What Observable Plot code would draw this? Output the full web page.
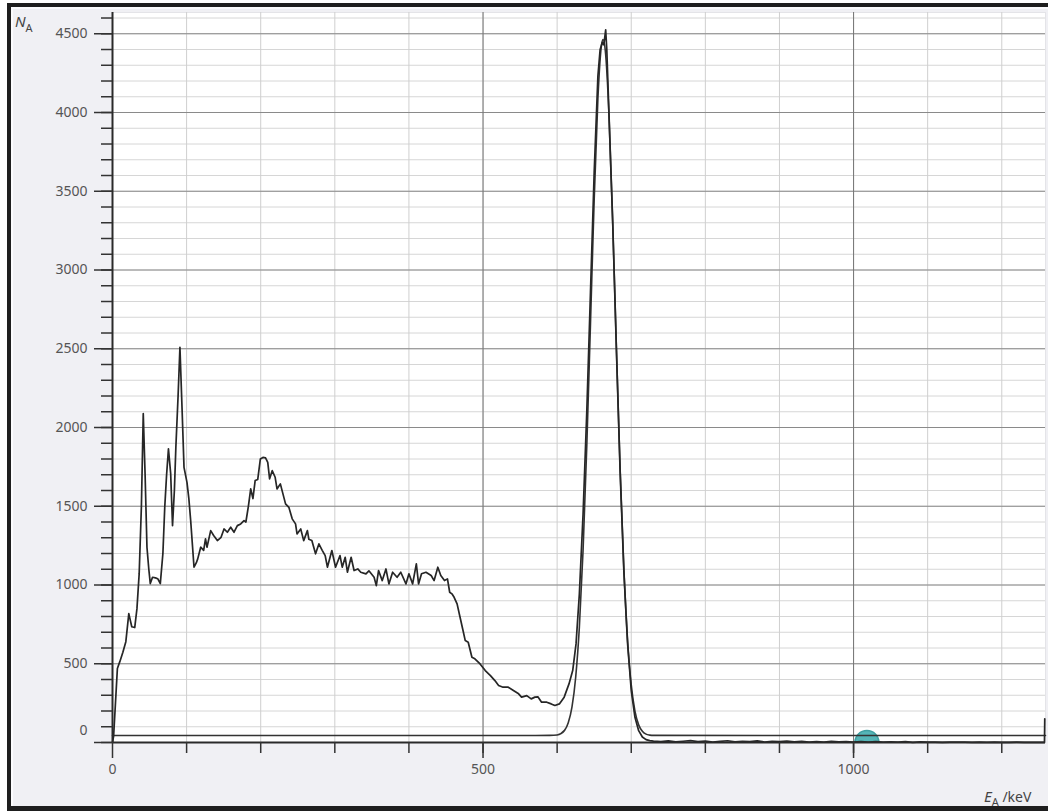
<!DOCTYPE html>
<html><head><meta charset="utf-8">
<script src="https://cdn.jsdelivr.net/npm/d3@7"></script>
<script src="https://cdn.jsdelivr.net/npm/@observablehq/plot@0.6"></script>
<style>
body{margin:0;background:#fff;}
#wrap{position:relative;width:1048px;height:812px;overflow:hidden;}
#panel{position:absolute;left:7px;top:3px;width:1060px;height:808px;box-sizing:border-box;border-top:4px solid #1e1e1e;border-left:4px solid #1e1e1e;border-bottom:5px solid #1e1e1e;background:#f0f0f4;box-shadow:inset 2px 2px 0 #fbfbfd;}
#chart{position:absolute;left:0;top:0;}
</style></head>
<body>
<div id="wrap"><div id="panel"></div><div id="chart"></div></div>
<script>
// Measured spectrum: energy (keV) and counts
const specE = [0,1.5,6.6,10,14,18,22,26,30,33,36,39,41.5,44,46.5,49,51,54,58,61,64.5,68,70.5,73,75.5,78.5,81,83.5,85.5,88.5,91,94,96.5,100.5,103,105.5,110,113,115,119,123,125.5,127.5,132.5,136.5,141.5,146.5,150.5,155,159.5,164,168.5,173,177.5,180,183.5,186.5,189.5,192.5,196,199.5,203,206.5,209.5,212,215.5,219.5,222,226.5,233.5,238,242.5,247,249,254,258,263,265,269,274,278.5,283,287,290,296,301,307,310,314,317,322,326,331,335,342,346,353,356,359,364,369,373,378,384,389,396,400,405,410,413,417,423,430,434,439,443,448,452,455,458,461,465,469,473,476,480,485,489,496,503,510,516,521,527,534,541,548,552,559,565,570,574,579,586,592,597,603,609.5,616,621,625.5,630,635,640,645,650,655,658,661,663,665.5,667,670,675,680,685,690,695,700,705,710,715,720,725,730,740,750,760,770,780,790,800,810,820,830,840,850,860,870,880,890,900,910,920,930,940,950,960,970,980,990,1000,1010,1020,1030,1040,1050,1060,1070,1080,1090,1100,1110,1120,1130,1140,1150,1160,1170,1180,1190,1200,1210,1220,1230,1240,1250,1257.6,1258];
const specN = [0,40,470,515,573,640,818,735,730,850,1072,1500,2088,1700,1240,1100,1009,1049,1045,1040,1009,1200,1493,1700,1864,1707,1377,1600,1874,2200,2509,2100,1747,1652,1550,1409,1113,1140,1166,1240,1220,1293,1240,1345,1314,1282,1303,1356,1335,1367,1335,1377,1388,1409,1400,1504,1610,1549,1663,1670,1800,1810,1807,1779,1674,1726,1684,1610,1642,1515,1493,1420,1388,1324,1356,1282,1345,1290,1282,1198,1261,1220,1187,1113,1219,1113,1187,1113,1176,1081,1176,1092,1102,1081,1071,1090,1049,996,1092,1028,1102,1007,1081,1049,1081,1007,1071,1007,1134,1007,1071,1081,1060,1028,1113,1060,1028,1039,954,944,922,880,795,711,647,637,541,531,499,457,425,393,362,351,351,330,309,288,298,277,288,290,256,256,245,235,245,288,372,457,626,944,1450,2100,2860,3620,4230,4400,4445,4430,4525,4400,3985,3300,2490,1720,1090,630,330,160,75,35,18,12,9,6,10,4,8,12,5,9,3,7,11,4,8,6,10,3,7,5,9,4,8,3,6,2,7,4,5,3,6,2,5,3,4,2,5,1,4,2,3,1,3,2,2,1,2,1,2,1,1,2,1,1,1,1,150];
// Fitted peak curve
const fitE = [0,560,590,600,610,615,620,625,630,635,640,645,650,655,660,662,665,670,675,680,685,690,695,700,705,710,715,720,725,730,1259];
const fitN = [44,44,45,48,77,125,224,413,733,1221,1881,2661,3448,4088,4433,4464,4393,3980,3297,2500,1737,1109,654,366,199,112,71,53,47,45,44];
// Axis ticks
const yMajor = [500,1000,1500,2000,2500,3000,3500,4000,4500];
const yMinor = d3.range(0,4601,100);
const xMajor = [0,500,1000];
const xMinor = d3.range(100,1201,100);
const marker = [{E:1018,N:0}];

const spec = specE.map((e,i)=>({E:e,N:specN[i]}));
const fit = fitE.map((e,i)=>({E:e,N:fitN[i]}));
const fmt = d3.format("d");

const chart = Plot.plot({
  width:1048, height:812,
  marginLeft:112, marginRight:3, marginTop:12, marginBottom:70,
  style:{background:"transparent", fontFamily:"'Noto Sans', sans-serif", fontSize:"14px", color:"#555", overflow:"visible"},
  x:{domain:[0,1259], label:null},
  y:{domain:[0,4635], label:null},
  marks:[
    Plot.frame({fill:"white", stroke:"#e4e4e8"}),
    Plot.gridY({ticks:yMinor, stroke:"#d6d6d6", strokeOpacity:1}),
    Plot.gridX({ticks:xMinor, stroke:"#cfcfcf", strokeOpacity:1}),
    Plot.gridY({ticks:yMajor, stroke:"#8a8a8a", strokeOpacity:1}),
    Plot.gridX({ticks:[500,1000], stroke:"#767676", strokeOpacity:1}),
    Plot.dot(marker, {x:"E", y:"N", r:12, fill:"#55b5b7", stroke:"#3f9fa1", clip:true}),
    Plot.line(fit, {x:"E", y:"N", stroke:"#333", strokeWidth:1.6, curve:"monotone-x"}),
    Plot.line(spec, {x:"E", y:"N", stroke:"#262626", strokeWidth:1.7}),
    Plot.ruleY([0], {stroke:"#2a2a2a", strokeWidth:2}),
    Plot.ruleX([0], {stroke:"#2a2a2a", strokeWidth:2}),
    Plot.axisY({ticks:yMinor, tickSize:11, tickFormat:()=>"", stroke:"#333", strokeWidth:1.5, label:null}),
    Plot.axisY({ticks:yMajor, tickSize:18, tickPadding:7, tickFormat:fmt, stroke:"#333", strokeWidth:1.5, fill:"#555", fontSize:14, label:null}),
    Plot.axisY({ticks:[0], tickSize:18, tickFormat:()=>"", stroke:"#333", strokeWidth:1.5, label:null}),
    Plot.text(["0"], {frameAnchor:"bottom-left", dx:-25, dy:-8, textAnchor:"end", text:d=>d, fill:"#555", fontSize:14}),
    Plot.axisX({ticks:xMinor, tickSize:11, tickFormat:()=>"", stroke:"#333", strokeWidth:1.5, label:null}),
    Plot.axisX({ticks:xMajor, tickSize:16, tickPadding:6, tickFormat:fmt, stroke:"#333", strokeWidth:1.5, fill:"#555", fontSize:14, label:null})
  ]
});
document.getElementById("chart").appendChild(chart);
const svg = d3.select(chart);
const yl = svg.append("text").attr("x",15).attr("y",27).attr("fill","#444").attr("text-anchor","start").style("font-family","'Noto Sans', sans-serif");
yl.append("tspan").text("N").style("font-style","italic").style("font-size","15px");
yl.append("tspan").text("A").attr("dy",5).style("font-size","11px");
const xl = svg.append("text").attr("x",984).attr("y",802).attr("fill","#444").attr("text-anchor","start").style("font-family","'Noto Sans', sans-serif");
xl.append("tspan").text("E").style("font-style","italic").style("font-size","15px");
xl.append("tspan").text("A").attr("dy",4).style("font-size","11px");
xl.append("tspan").text(" /keV").attr("dy",-4).style("font-size","14px");
</script>
</body></html>
